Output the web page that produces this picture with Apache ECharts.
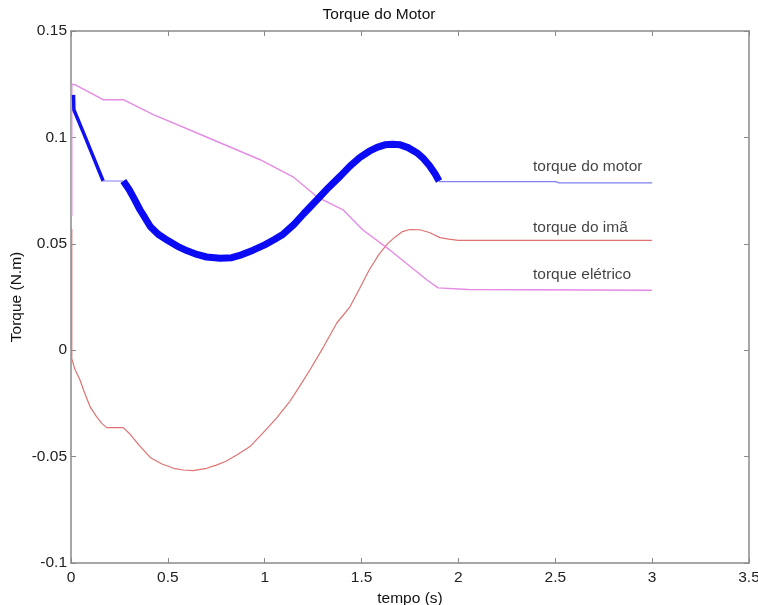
<!DOCTYPE html>
<html><head><meta charset="utf-8">
<script src="https://cdn.jsdelivr.net/npm/echarts@6/dist/echarts.min.js"></script>
<style>html,body{margin:0;padding:0;background:#fff}#c{width:758px;height:605px}</style>
</head><body><div id="c"></div>
<script>
var xTicks = [0, 0.5, 1, 1.5, 2, 2.5, 3, 3.5];
var yTicks = [-0.1, -0.05, 0, 0.05, 0.1, 0.15];
// torque do motor
var motorStart = [[0.013,0.120],[0.015,0.113],[0.072,0.1005],[0.166,0.0795]];
var motorFlat = [[0.166,0.0795],[0.27,0.0795]];
var motorThick = [[0.27,0.0795],[0.30,0.0755],[0.33,0.0705],[0.356,0.066],[0.38,0.0625],[0.41,0.058],[0.45,0.0545],[0.50,0.0515],[0.55,0.0488],[0.60,0.0467],[0.65,0.0450],[0.70,0.0438],[0.77,0.0432],[0.83,0.0435],[0.88,0.0448],[0.94,0.047],[1.00,0.0495],[1.05,0.052],[1.095,0.0545],[1.15,0.059],[1.20,0.064],[1.27,0.0707],[1.33,0.0765],[1.39,0.0818],[1.44,0.0865],[1.49,0.0905],[1.54,0.0935],[1.58,0.0953],[1.62,0.0965],[1.66,0.0968],[1.70,0.0965],[1.74,0.0952],[1.785,0.0928],[1.82,0.090],[1.85,0.0868],[1.88,0.0828],[1.9,0.0795]];
var motorTail = [[1.9,0.0792],[2.5,0.0792],[2.52,0.0786],[3.0,0.0786]];
// torque do imã
var ima = [[0.004,0.057],[0.004,-0.004],[0.02,-0.009],[0.046,-0.0139],[0.07,-0.020],[0.098,-0.0265],[0.13,-0.031],[0.16,-0.0345],[0.185,-0.0364],[0.27,-0.0364],[0.30,-0.039],[0.35,-0.0445],[0.41,-0.0505],[0.47,-0.0535],[0.53,-0.0555],[0.58,-0.0563],[0.63,-0.0566],[0.70,-0.0555],[0.75,-0.0540],[0.80,-0.0522],[0.86,-0.049],[0.924,-0.0453],[0.99,-0.039],[1.06,-0.032],[1.13,-0.024],[1.18,-0.017],[1.234,-0.0092],[1.30,0.001],[1.373,0.0129],[1.44,0.0204],[1.49,0.029],[1.54,0.0378],[1.59,0.045],[1.63,0.0496],[1.67,0.053],[1.71,0.0557],[1.75,0.0567],[1.80,0.0566],[1.85,0.0553],[1.905,0.0529],[1.95,0.0522],[2.0,0.0516],[3.0,0.0516]];
// torque elétrico
var eletrico = [[0.004,0.063],[0.004,0.125],[0.02,0.1248],[0.166,0.1177],[0.27,0.1177],[0.425,0.1107],[0.733,0.0989],[0.976,0.0895],[1.146,0.0815],[1.27,0.0721],[1.404,0.066],[1.507,0.0565],[1.647,0.047],[1.838,0.033],[1.895,0.0293],[2.05,0.0285],[3.0,0.0282]];
var labels = [["torque do motor",2.385,0.0862],["torque do imã",2.385,0.0576],["torque elétrico",2.385,0.0355]];

var FONT = 'Liberation Sans, Arial, sans-serif';
var FS = 15.5;
var axCol = '#8a8a8a';
function fmt(v){ return String(parseFloat(v.toFixed(3))); }
function line(data, color, width, z){
  return {type:'line', data:data, showSymbol:false, symbol:'none', z:z||2,
    lineStyle:{color:color, width:width}, animation:false, silent:true};
}
var series = [
  line(ima, '#e07272', 1.2),
  line(eletrico, '#e58ae5', 1.4),
  line(motorStart, '#1010f0', 3.5, 3),
  line(motorFlat, '#8080ee', 1.2, 3),
  line(motorThick, '#0a0af5', 7, 3),
  line(motorTail, '#8080ee', 1.2, 3)
];
series.push({type:'scatter', data:labels.map(function(l){return [l[1],l[2],l[0]];}),
  symbolSize:0, silent:true, animation:false,
  label:{show:true, position:'right', distance:0, formatter:function(p){return p.data[2];},
    color:'#111', fontFamily:FONT, fontSize:FS}});
var chart = echarts.init(document.getElementById('c'), null, {renderer:'canvas'});
chart.setOption({
  backgroundColor:'#fff',
  animation:false,
  title:{text:'Torque do Motor', left:'center', top:2,
    textStyle:{fontFamily:FONT, fontSize:FS, fontWeight:'normal', color:'#111'}},
  grid:{left:71, right:9, top:31, bottom:42, containLabel:false, outerBoundsMode:'none'},
  xAxis:[{type:'value', min:0, max:3.5, interval:0.5, position:'bottom',
    name:'tempo (s)', nameLocation:'middle', nameGap:27,
    nameTextStyle:{fontFamily:FONT, fontSize:FS, color:'#111'},
    axisLine:{show:true, onZero:false, lineStyle:{color:axCol, width:1.5}},
    axisTick:{show:true, inside:true, length:5, lineStyle:{color:axCol}},
    axisLabel:{fontFamily:FONT, fontSize:FS, color:'#222', margin:7, formatter:fmt},
    splitLine:{show:false}},
   {type:'value', min:0, max:3.5, interval:0.5, position:'top',
    axisLine:{show:true, onZero:false, lineStyle:{color:axCol, width:1.5}},
    axisTick:{show:true, inside:true, length:5, lineStyle:{color:axCol}},
    axisLabel:{show:false}, splitLine:{show:false}}],
  yAxis:[{type:'value', min:-0.1, max:0.15, interval:0.05, position:'left',
    name:'Torque (N.m)', nameLocation:'middle', nameGap:46, nameRotate:90,
    nameMoveOverlap:false,
    nameTextStyle:{fontFamily:FONT, fontSize:FS, color:'#111'},
    axisLine:{show:true, onZero:false, lineStyle:{color:axCol, width:1.5}},
    axisTick:{show:true, inside:true, length:5, lineStyle:{color:axCol}},
    axisLabel:{fontFamily:FONT, fontSize:FS, color:'#222', margin:4, formatter:fmt},
    splitLine:{show:false}},
   {type:'value', min:-0.1, max:0.15, interval:0.05, position:'right',
    axisLine:{show:true, onZero:false, lineStyle:{color:axCol, width:1.5}},
    axisTick:{show:true, inside:true, length:5, lineStyle:{color:axCol}},
    axisLabel:{show:false}, splitLine:{show:false}}],
  series:series
});
</script></body></html>
